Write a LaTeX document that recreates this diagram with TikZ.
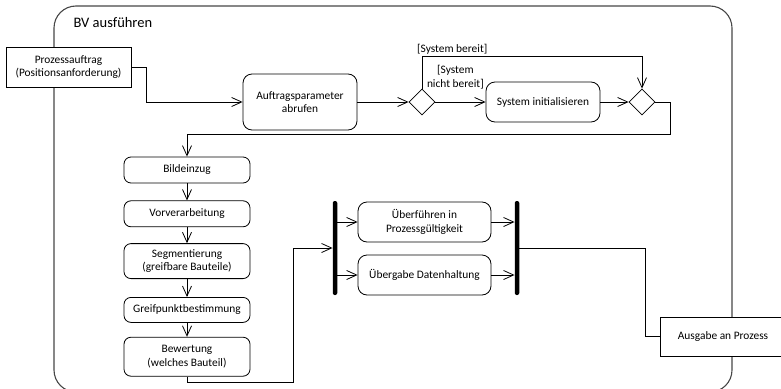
\documentclass[tikz,border=0pt]{standalone}
\usepackage{fontspec}
\setmainfont{Carlito}
\usetikzlibrary{positioning,arrows.meta,shapes.geometric}
\definecolor{framegray}{RGB}{70,70,70}
\tikzset{
  action/.style={draw, rounded corners=9pt, line width=0.8pt, fill=white, align=center,
                 minimum width=114pt, minimum height=40pt, inner sep=2pt},
  colstep/.style={action, rounded corners=7pt, minimum width=126pt, minimum height=26pt},
  pinbox/.style={draw, line width=0.8pt, fill=white, align=center,
                 minimum width=126pt, minimum height=40pt, inner sep=2pt},
  decision/.style={draw, diamond, aspect=1, minimum size=26pt, inner sep=0pt,
                   line width=0.8pt, fill=white},
  bar/.style={fill=black, rounded corners=2pt, minimum width=4.5pt,
              minimum height=94pt, inner sep=0pt},
  guard/.style={align=center, inner sep=1pt},
  arrow/.style={-{Straight Barb[length=10pt,width=9pt]}, line width=0.8pt},
  link/.style={line width=0.8pt},
}
\begin{document}
\begin{tikzpicture}[x=1pt, y=-1pt, font=\fontsize{11.4}{13.5}\selectfont]
  \useasboundingbox (0,0) rectangle (781,388);
  \draw[framegray, line width=1.1pt, rounded corners=22pt] (54,6) rectangle (732,392);
  \node[anchor=west, font=\fontsize{14.5}{16}\selectfont] (title) at (70,23) {BV ausführen};

  \node[pinbox, minimum width=125pt] (auftrag) at (68.5,67) {Prozessauftrag\\(Positionsanforderung)};
  \node[action, minimum height=56pt] (abrufen) at (300,102) {Auftragsparameter\\abrufen};
  \node[decision]                    (verzw)   at (422,102) {};
  \node[action]                      (init)    at (543,102) {System initialisieren};
  \node[decision]                    (zusf)    at (642,102) {};
  \node[guard, anchor=south west]    (bereit)  at (416,56) {[System bereit]};
  \node[guard, anchor=south east]    (nbereit) at (485,90) {[System\\nicht bereit]};

  \node[colstep]                                      (bild)   at (187,170) {Bildeinzug};
  \node[colstep, below=17pt of bild]                  (vorv)   {Vorverarbeitung};
  \node[colstep, below=16pt of vorv, minimum height=35pt]  (segm)   {Segmentierung\\(greifbare Bauteile)};
  \node[colstep, below=18pt of segm, minimum height=25pt]  (greif)  {Greifpunktbestimmung};
  \node[colstep, below=14pt of greif, minimum height=39pt] (bewert) {Bewertung\\(welches Bauteil)};

  \node[bar]                               (fork)      at (335,248) {};
  \node[action, minimum width=133pt]       (ueberf)    at (424.5,222) {Überführen in\\Prozessgültigkeit};
  \node[action, minimum width=133pt]       (uebergabe) at (424.5,275) {Übergabe Datenhaltung};
  \node[bar]                               (join)      at (517,248) {};
  \node[pinbox, minimum height=39pt]       (ausgabe)   at (723,336.5) {Ausgabe an Prozess};

  \draw[arrow] (auftrag.east) -- ++(14.5,0) |- (abrufen.west);
  \draw[arrow] (abrufen) -- (verzw);
  \draw[arrow] (verzw.north) -- ++(0,-32) -| (zusf.north);
  \draw[arrow] (verzw) -- (init);
  \draw[arrow] (init) -- (zusf);
  \draw[arrow] (zusf.east) -- ++(15,0) -- ++(0,32) -| (bild.north);
  \draw[arrow] (bild) -- (vorv);
  \draw[arrow] (vorv) -- (segm);
  \draw[arrow] (segm) -- (greif);
  \draw[arrow] (greif) -- (bewert);
  \draw[arrow] (bewert.south) -- ++(0,6) -- ++(106,0) |- (fork.west);
  \draw[arrow] (fork.east |- ueberf.west) -- (ueberf.west);
  \draw[arrow] (fork.east |- uebergabe.west) -- (uebergabe.west);
  \draw[arrow] (ueberf.east) -- (join.west |- ueberf.east);
  \draw[arrow] (uebergabe.east) -- (join.west |- uebergabe.east);
  \draw[link] (join.east) -- ++(126,0) |- (ausgabe.west);
\end{tikzpicture}
\end{document}
